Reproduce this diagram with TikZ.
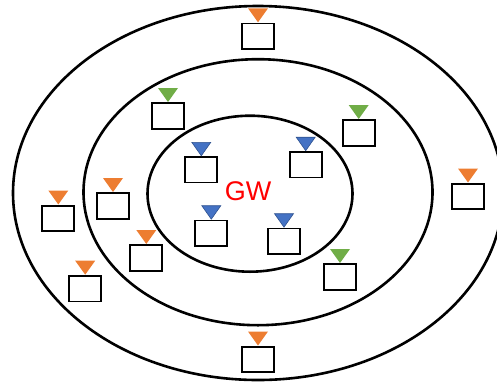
\documentclass[tikz,border=0pt]{standalone}
\usepackage{fontspec}
\setmainfont{Liberation Sans}
\definecolor{sorange}{HTML}{ED7D31}
\definecolor{sgreen}{HTML}{70AD47}
\definecolor{sblue}{HTML}{4472C4}
\definecolor{sblueedge}{HTML}{2F528F}
\tikzset{
  ring/.style={draw=black, line width=2.6pt},
  devbox/.style={draw=black, line width=1.8pt, fill=white, minimum width=32pt, minimum height=25.5pt, inner sep=0pt},
  sensor/.pic={
    \node[devbox] (-box) at (0,0) {};
    \fill[#1] (-10,-28) -- (10,-28) -- (0,-14) -- cycle;
  },
  bsensor/.pic={
    \node[devbox] (-box) at (0,0) {};
    \filldraw[fill=sblue, draw=sblueedge, line width=0.6pt] (-9.5,-27.5) -- (9.5,-27.5) -- (0,-14) -- cycle;
  }
}
\begin{document}
\begin{tikzpicture}[x=1pt, y=-1pt]
  \useasboundingbox (0,0) rectangle (497,381);
  \clip (0,0) rectangle (497,381);
  % three nested zones around the gateway
  \draw[ring] (258,193) ellipse [x radius=245, y radius=187];
  \draw[ring] (258,192.2) ellipse [x radius=174.5, y radius=133];
  \draw[ring] (250,193.7) ellipse [x radius=102.5, y radius=78];
  \node[text=red, font=\fontsize{27}{30}\selectfont] (gw) at (248,191) {GW};
  % inner zone
  \pic (b1) at (201.3,169.8) {bsensor};
  \pic (b2) at (305.7,164.7) {bsensor};
  \pic (b3) at (211.3,233.2) {bsensor};
  \pic (b4) at (284,241.2) {bsensor};
  % middle zone
  \pic (g1) at (168,116) {sensor=sgreen};
  \pic (g2) at (358.7,133) {sensor=sgreen};
  \pic (g3) at (340,277) {sensor=sgreen};
  \pic (m1) at (113,206) {sensor=sorange};
  \pic (m2) at (146.3,258) {sensor=sorange};
  % outer zone
  \pic (o1) at (258,36.3) {sensor=sorange};
  \pic (o2) at (468,196.5) {sensor=sorange};
  \pic (o3) at (58.3,218.5) {sensor=sorange};
  \pic (o4) at (85.2,288.7) {sensor=sorange};
  \pic (o5) at (258,359.5) {sensor=sorange};
\end{tikzpicture}
\end{document}
